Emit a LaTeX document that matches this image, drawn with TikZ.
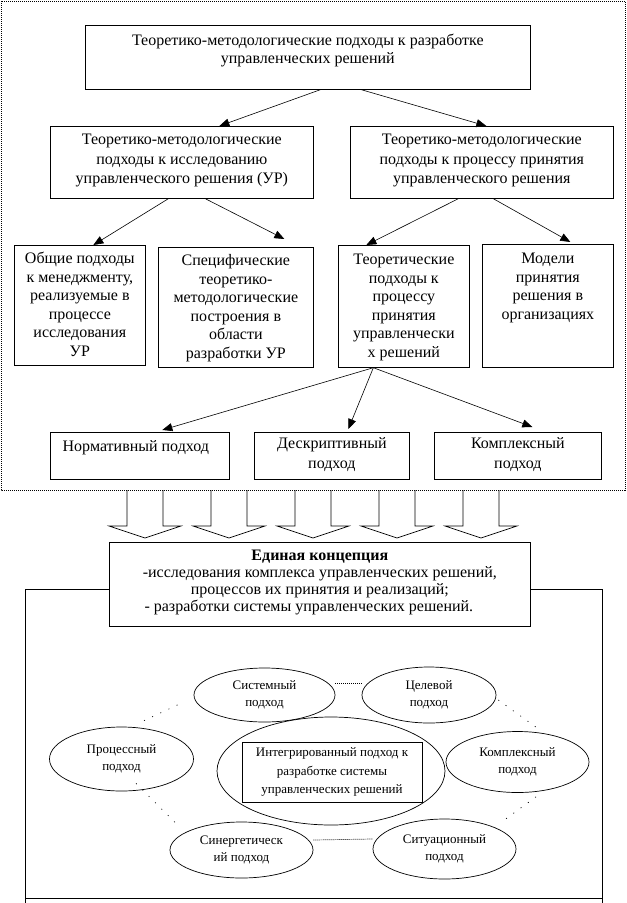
\documentclass[tikz,border=0pt]{standalone}
\usepackage{fontspec}
\setmainfont{Liberation Serif}
\usetikzlibrary{arrows.meta,shapes.geometric}
\newcommand{\bt}[5]{\begin{minipage}[t][#2][t]{#1}\centering\baselineskip=#4\relax\rule{0pt}{#3}#5\end{minipage}}
\tikzset{
  box/.style={draw, line width=0.7pt, inner sep=0pt, anchor=north west, font=\fontsize{16pt}{18.5pt}\selectfont},
  ell/.style={draw, ellipse, line width=0.7pt, inner sep=0pt, align=center, font=\fontsize{13pt}{17pt}\selectfont},
  arr/.style={-{Triangle[length=10pt,width=8pt]}, line width=0.6pt},
  dots/.style={line width=0.7pt, dash pattern=on 1pt off 1pt},
  sparse/.style={line width=0.7pt, dash pattern=on 1pt off 8pt}
}
\begin{document}
\begin{tikzpicture}[x=1pt,y=-1pt]
\useasboundingbox (0,0) rectangle (627,903);
% outer dotted frame
\draw[line width=0.6pt, dash pattern=on 1pt off 1pt] (1,1) rectangle (625,490);
% boxes
\node[box] (top) at (85,25) {\bt{445pt}{64pt}{20.5pt}{18pt}{Теоретико-методологические подходы к разработке\\управленческих решений}};
\node[box] (l2a) at (50,126) {\bt{263pt}{72pt}{18.5pt}{19.5pt}{Теоретико-методологические\\подходы к исследованию\\управленческого решения (УР)}};
\node[box] (l2b) at (350,126) {\bt{263pt}{72pt}{18.5pt}{19.5pt}{Теоретико-методологические\\подходы к процессу принятия\\управленческого решения}};
\node[box] (l3a) at (14,245) {\bt{131pt}{120pt}{18.5pt}{18.5pt}{Общие подходы\\к менеджменту,\\реализуемые в\\процессе\\исследования\\УР}};
\node[box] (l3b) at (158,247) {\bt{155pt}{120pt}{18.5pt}{18.5pt}{Специфические\\теоретико-\\методологические\\построения в\\области\\разработки УР}};
\node[box] (l3c) at (338,245) {\bt{131pt}{122pt}{19.5pt}{18.5pt}{Теоретические\\подходы к\\процессу\\принятия\\управленчески\\х решений}};
\node[box] (l3d) at (482,244) {\bt{131pt}{123pt}{19.5pt}{18.5pt}{Модели\\принятия\\решения в\\организациях}};
\node[box] (l4a) at (50,432) {\bt{179pt}{47pt}{19pt}{20pt}{Нормативный подход\hspace*{8pt}}};
\node[box] (l4b) at (254,432) {\bt{155pt}{47pt}{16.5pt}{20pt}{Дескриптивный\\подход}};
\node[box] (l4c) at (434,432) {\bt{167pt}{47pt}{16.5pt}{20pt}{Комплексный\\подход}};
% arrows
\draw[arr] ([xshift=12.5pt]top.south) -- ([xshift=37.5pt]l2a.north);
\draw[arr] ([xshift=53.5pt]top.south) -- ([xshift=4.5pt]l2b.north);
\draw[arr] ([xshift=-13.5pt]l2a.south) -- ([xshift=13.5pt]l3a.north);
\draw[arr] ([xshift=23.5pt]l2a.south) -- ([xshift=48.5pt,yshift=8pt]l3b.north);
\draw[arr] ([xshift=-23.5pt]l2b.south) -- ([xshift=-37.5pt]l3c.north);
\draw[arr] ([xshift=11.5pt]l2b.south) -- ([xshift=22.5pt,yshift=2pt]l3d.north);
\draw[arr] ([xshift=-30.5pt]l3c.south) -- ([xshift=22.5pt,yshift=2pt]l4a.north);
\draw[arr] ([xshift=-30.5pt]l3c.south) -- ([xshift=16.5pt,yshift=3pt]l4b.north);
\draw[arr] ([xshift=-30.5pt]l3c.south) -- ([xshift=14.5pt,yshift=5pt]l4c.north);
% block arrows
\foreach \c in {145,229,313,397,481}
  \draw[line width=0.7pt] (\c-18,490) -- (\c-18,526) -- (\c-36,526) -- (\c,538) -- (\c+36,526) -- (\c+18,526) -- (\c+18,490);
% big frame
\draw[line width=0.7pt] (25,589) rectangle (602,898);
\draw[line width=0.7pt] (25,898) -- (25,903) (602,898) -- (602,903);
% concept box
\node[box, fill=white] (conc) at (109,542) {\bt{421pt}{84pt}{18.5pt}{17pt}{\textbf{Единая концепция}\\-исследования комплекса управленческих решений,\\процессов их принятия и реализаций;\hspace*{32pt}\\- разработки системы управленческих решений.\hspace*{22pt}}};
% ellipses
\node[ell, minimum width=141pt, minimum height=54pt] (sys) at (264.5,695) {Системный\\подход};
\node[ell, minimum width=134pt, minimum height=56pt] (cel) at (429,695) {Целевой\\подход};
\node[ell, minimum width=144pt, minimum height=64pt] (proc) at (121.5,759) {Процессный\\подход};
\node[ell, minimum width=228pt, minimum height=108pt] (cen) at (331,771) {};
\node[draw, line width=0.7pt, minimum width=180pt, minimum height=60pt, inner sep=0pt, align=center, font=\fontsize{13pt}{18.5pt}\selectfont] (integ) at (332,772) {Интегрированный подход к\\разработке системы\\управленческих решений};
\node[ell, minimum width=143pt, minimum height=61pt] (kom) at (517.5,762) {Комплексный\\подход};
\node[ell, minimum width=143pt, minimum height=56pt] (syn) at (241.5,850) {Синергетическ\\ий подход};
\node[ell, minimum width=143pt, minimum height=60pt] (sit) at (444.5,849) {Ситуационный\\подход};
% dotted links
\draw[dots] ([yshift=12pt]sys.east) -- ([yshift=12pt]cel.west);
\draw[dots] ([yshift=10pt]syn.east) -- ([yshift=10pt]sit.west);
\draw[sparse] ([xshift=22.5pt,yshift=6pt]proc.north) -- ([xshift=-10pt,yshift=-7pt]sys.west);
\draw[sparse] ([xshift=2pt,yshift=-5pt]cel.east) -- ([xshift=18.5pt,yshift=4pt]kom.north);
\draw[sparse] ([xshift=14.5pt,yshift=8pt]proc.south) -- ([xshift=8pt,yshift=25pt]syn.west);
\draw[sparse] ([xshift=18.5pt,yshift=-4pt]kom.south) -- ([xshift=57.5pt,yshift=-3pt]sit.north);
\end{tikzpicture}
\end{document}
